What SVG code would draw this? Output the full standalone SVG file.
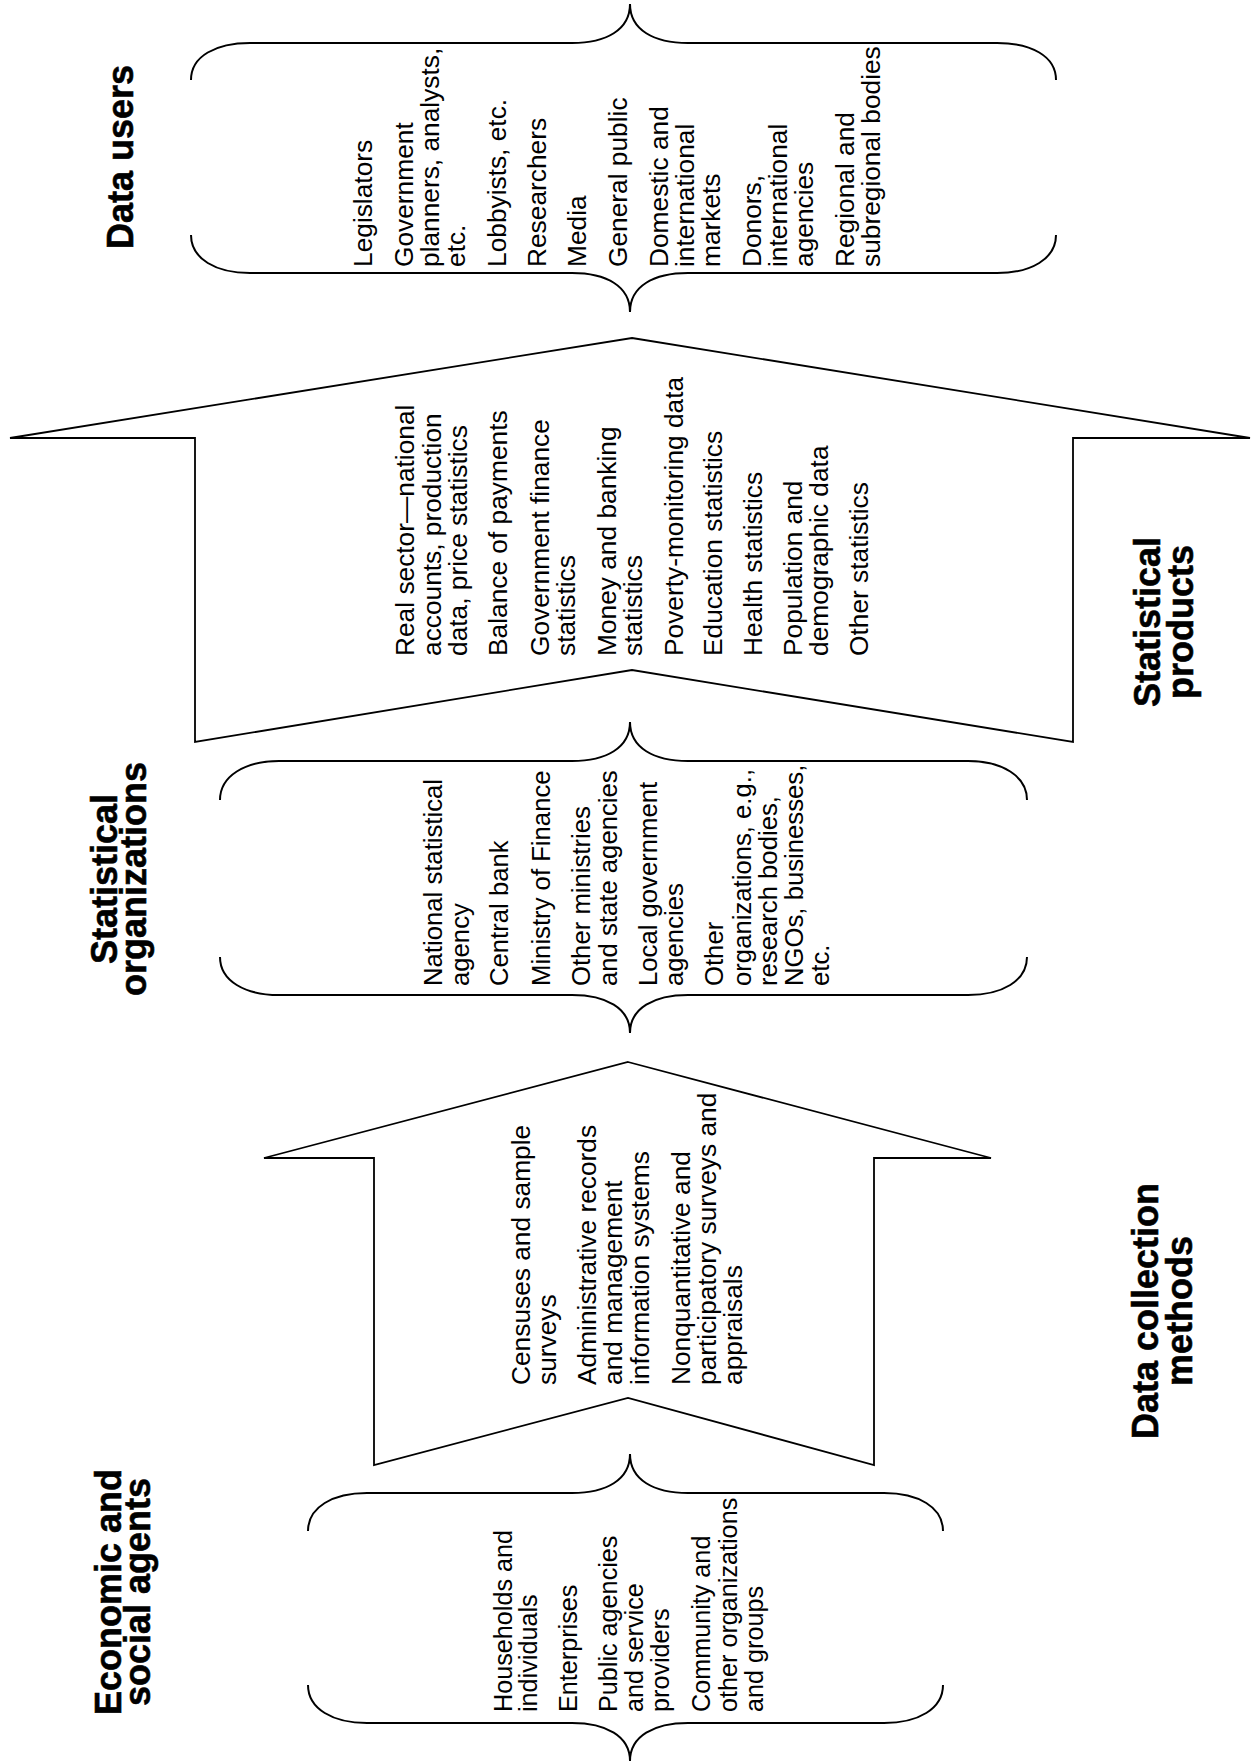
<svg xmlns="http://www.w3.org/2000/svg" width="1260" height="1763" viewBox="0 0 1260 1763">
<style>
.it{font-family:"Liberation Sans",Arial,Helvetica,sans-serif;font-size:26.3px;fill:#000}
.lb{font-family:"Liberation Sans",Arial,Helvetica,sans-serif;font-weight:bold;font-size:36px;fill:#000;stroke:#000;stroke-width:0.6;text-anchor:middle}
.br{fill:none;stroke:#000;stroke-width:2}
.ar{fill:#fff;stroke:#000;stroke-width:1.8}
</style>
<rect width="1260" height="1763" fill="#fff"/>
<g id="connectors"/>
<g id="data-users">
<path class="br" d="M191,80 C191,56 216,43 250,43 L572,43 C606,43 630,30 630,4 C630,30 654,43 688,43 L997,43 C1031,43 1056,56 1056,80"/>
<path class="br" d="M191,235 C191,259 216,273 250,273 L572,273 C606,273 630,286 630,312 C630,286 654,273 688,273 L997,273 C1031,273 1056,259 1056,235"/>
<text class="lb" transform="translate(0,157) rotate(-90)"><tspan x="0" y="133">Data users</tspan></text>
<text class="it" transform="translate(0,267) rotate(-90)">
<tspan x="0" y="372">Legislators</tspan>
<tspan x="0" y="413">Government</tspan>
<tspan x="0" y="439">planners, analysts,</tspan>
<tspan x="0" y="465">etc.</tspan>
<tspan x="0" y="506">Lobbyists, etc.</tspan>
<tspan x="0" y="546">Researchers</tspan>
<tspan x="0" y="586">Media</tspan>
<tspan x="0" y="627">General public</tspan>
<tspan x="0" y="668">Domestic and</tspan>
<tspan x="0" y="694">international</tspan>
<tspan x="0" y="720">markets</tspan>
<tspan x="0" y="761">Donors,</tspan>
<tspan x="0" y="787">international</tspan>
<tspan x="0" y="813">agencies</tspan>
<tspan x="0" y="854">Regional and</tspan>
<tspan x="0" y="880">subregional bodies</tspan>
</text>
</g>
<g id="statistical-products">
<polygon class="ar" points="632,338 1250,438 1073,438 1073,742 632,670 195,742 195,438 10,438"/>
<text class="lb" transform="translate(0,622) rotate(-90)"><tspan x="0" y="1160">Statistical</tspan><tspan x="0" y="1193">products</tspan></text>
<text class="it" transform="translate(0,656) rotate(-90)">
<tspan x="0" y="414">Real sector—national</tspan>
<tspan x="0" y="441">accounts, production</tspan>
<tspan x="0" y="467">data, price statistics</tspan>
<tspan x="0" y="507">Balance of payments</tspan>
<tspan x="0" y="549">Government finance</tspan>
<tspan x="0" y="575">statistics</tspan>
<tspan x="0" y="616">Money and banking</tspan>
<tspan x="0" y="642">statistics</tspan>
<tspan x="0" y="683">Poverty-monitoring data</tspan>
<tspan x="0" y="722">Education statistics</tspan>
<tspan x="0" y="762">Health statistics</tspan>
<tspan x="0" y="802">Population and</tspan>
<tspan x="0" y="828">demographic data</tspan>
<tspan x="0" y="868">Other statistics</tspan>
</text>
</g>
<g id="statistical-organizations">
<path class="br" d="M220,800 C220,776 245,761 279,761 L572,761 C606,761 630,748 630,722 C630,748 654,761 688,761 L968,761 C1002,761 1027,776 1027,800"/>
<path class="br" d="M220,957 C220,981 245,995 279,995 L572,995 C606,995 630,1008 630,1033 C630,1008 654,995 688,995 L968,995 C1002,995 1027,981 1027,957"/>
<text class="lb" transform="translate(0,879) rotate(-90)"><tspan x="0" y="117">Statistical</tspan><tspan x="0" y="146">organizations</tspan></text>
<text class="it" transform="translate(0,986) rotate(-90)" style="font-size:25.7px">
<tspan x="0" y="442">National statistical</tspan>
<tspan x="0" y="469">agency</tspan>
<tspan x="0" y="508">Central bank</tspan>
<tspan x="0" y="550">Ministry of Finance</tspan>
<tspan x="0" y="590">Other ministries</tspan>
<tspan x="0" y="617">and state agencies</tspan>
<tspan x="0" y="657">Local government</tspan>
<tspan x="0" y="683">agencies</tspan>
<tspan x="0" y="723">Other</tspan>
<tspan x="0" y="751">organizations, e.g.,</tspan>
<tspan x="0" y="777">research bodies,</tspan>
<tspan x="0" y="803">NGOs, businesses,</tspan>
<tspan x="0" y="829">etc.</tspan>
</text>
</g>
<g id="data-collection-methods">
<polygon class="ar" points="628,1062 991,1158 874,1158 874,1465 628,1398 374,1465 374,1158 264,1158"/>
<text class="lb" transform="translate(0,1311) rotate(-90)"><tspan x="0" y="1158">Data collection</tspan><tspan x="0" y="1192">methods</tspan></text>
<text class="it" transform="translate(0,1385) rotate(-90)">
<tspan x="0" y="530">Censuses and sample</tspan>
<tspan x="0" y="556">surveys</tspan>
<tspan x="0" y="596">Administrative records</tspan>
<tspan x="0" y="622">and management</tspan>
<tspan x="0" y="649">information systems</tspan>
<tspan x="0" y="690">Nonquantitative and</tspan>
<tspan x="0" y="716">participatory surveys and</tspan>
<tspan x="0" y="742">appraisals</tspan>
</text>
</g>
<g id="economic-social-agents">
<path class="br" d="M308,1531 C308,1507 333,1493 367,1493 L572,1493 C606,1493 630,1480 630,1454 C630,1480 654,1493 688,1493 L884,1493 C918,1493 943,1507 943,1531"/>
<path class="br" d="M308,1685 C308,1709 333,1723 367,1723 L572,1723 C606,1723 630,1736 630,1761 C630,1736 654,1723 688,1723 L884,1723 C918,1723 943,1709 943,1685"/>
<text class="lb" transform="translate(0,1592) rotate(-90)"><tspan x="0" y="121">Economic and</tspan><tspan x="0" y="150">social agents</tspan></text>
<text class="it" transform="translate(0,1712) rotate(-90)" style="font-size:25.2px">
<tspan x="0" y="512">Households and</tspan>
<tspan x="0" y="537">individuals</tspan>
<tspan x="0" y="577">Enterprises</tspan>
<tspan x="0" y="617">Public agencies</tspan>
<tspan x="0" y="643">and service</tspan>
<tspan x="0" y="669">providers</tspan>
<tspan x="0" y="710">Community and</tspan>
<tspan x="0" y="737">other organizations</tspan>
<tspan x="0" y="763">and groups</tspan>
</text>
</g>
</svg>
